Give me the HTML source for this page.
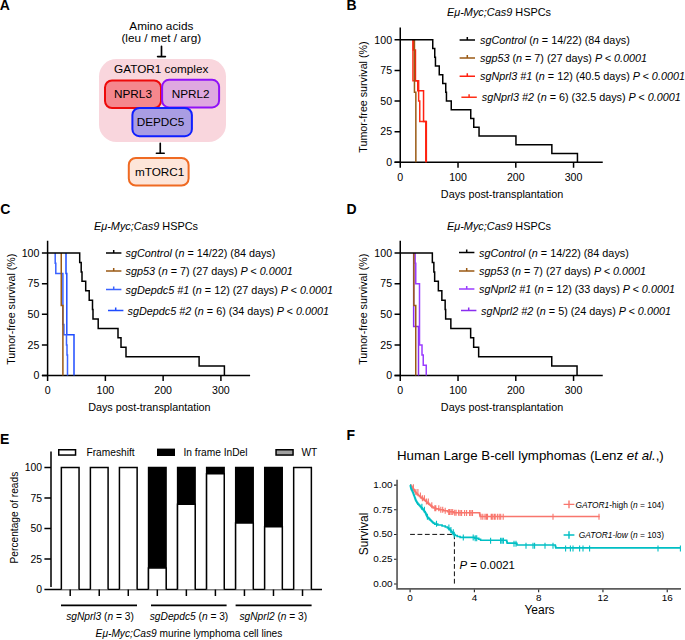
<!DOCTYPE html>
<html><head><meta charset="utf-8"><style>
html,body{margin:0;padding:0;background:#fff;overflow:hidden;width:685px;height:640px;}
svg{display:block;font-family:"Liberation Sans", sans-serif;}
</style></head><body>
<svg width="685" height="640" viewBox="0 0 685 640">
<rect width="685" height="640" fill="#fff"/>
<text x="-0.3" y="9.8" font-size="14" text-anchor="start" font-weight="bold" font-style="normal" fill="#000" >A</text>
<text x="161.3" y="30.4" font-size="11.75" text-anchor="middle" font-weight="normal" font-style="normal" fill="#000" >Amino acids</text>
<text x="161.3" y="42.4" font-size="11.75" text-anchor="middle" font-weight="normal" font-style="normal" fill="#000" >(leu / met / arg)</text>
<path d="M161.5 46.3V56.6M157.6 56.6H165.4" stroke="#000" stroke-width="1.65" stroke-linecap="round" fill="none"/>
<rect x="99" y="59" width="127" height="83" rx="17.5" fill="#f9d6dd"/>
<text x="161.2" y="73" font-size="11.75" text-anchor="middle" font-weight="normal" font-style="normal" fill="#000" >GATOR1 complex</text>
<rect x="105" y="80.5" width="56" height="27.6" rx="7" fill="#f5878d" stroke="#ee0a0a" stroke-width="2"/>
<rect x="162.1" y="79.8" width="57" height="27.6" rx="7" fill="#dfa8e0" stroke="#9010f8" stroke-width="2"/>
<text x="133" y="98" font-size="11.75" text-anchor="middle" font-weight="normal" font-style="normal" fill="#000" >NPRL3</text>
<text x="190.6" y="98" font-size="11.75" text-anchor="middle" font-weight="normal" font-style="normal" fill="#000" >NPRL2</text>
<rect x="132.4" y="108" width="59.5" height="28.2" rx="7" fill="#a99de3" stroke="#1020ff" stroke-width="2"/>
<text x="160.5" y="126.4" font-size="11.75" text-anchor="middle" font-weight="normal" font-style="normal" fill="#000" >DEPDC5</text>
<path d="M160.25 143.3V153.2M156.4 153.2H164.2" stroke="#000" stroke-width="1.65" stroke-linecap="round" fill="none"/>
<rect x="128.8" y="158" width="59.8" height="27.5" rx="7" fill="#fde5d9" stroke="#ef6a22" stroke-width="2"/>
<text x="159.6" y="176" font-size="11.75" text-anchor="middle" font-weight="normal" font-style="normal" fill="#000" >mTORC1</text>
<text x="346.6" y="9.8" font-size="14" text-anchor="start" font-weight="bold" font-style="normal" fill="#000" >B</text>
<text x="447" y="16.4" font-size="10.9" text-anchor="start" font-weight="normal" font-style="normal" fill="#000" ><tspan font-style="italic">Eμ-Myc;Cas9</tspan> HSPCs</text>
<path d="M400.25 27.549999999999994V162.25M394.55 162.25H602.75" stroke="#000" stroke-width="1.5" fill="none"/>
<path d="M394.55 162.25H400.25M394.55 131.65H400.25M394.55 101.05H400.25M394.55 70.45H400.25M394.55 39.85H400.25M400.25 162.25V167.85M458.02 162.25V167.85M515.79 162.25V167.85M573.56 162.25V167.85" stroke="#000" stroke-width="1.5" fill="none"/>
<text x="392.05" y="165.95" font-size="10.6" text-anchor="end" font-weight="normal" font-style="normal" fill="#000" >0</text>
<text x="392.05" y="135.35" font-size="10.6" text-anchor="end" font-weight="normal" font-style="normal" fill="#000" >25</text>
<text x="392.05" y="104.75" font-size="10.6" text-anchor="end" font-weight="normal" font-style="normal" fill="#000" >50</text>
<text x="392.05" y="74.14999999999999" font-size="10.6" text-anchor="end" font-weight="normal" font-style="normal" fill="#000" >75</text>
<text x="392.05" y="43.55" font-size="10.6" text-anchor="end" font-weight="normal" font-style="normal" fill="#000" >100</text>
<text x="400.25" y="180.65" font-size="10.6" text-anchor="middle" font-weight="normal" font-style="normal" fill="#000" >0</text>
<text x="458.02" y="180.65" font-size="10.6" text-anchor="middle" font-weight="normal" font-style="normal" fill="#000" >100</text>
<text x="515.79" y="180.65" font-size="10.6" text-anchor="middle" font-weight="normal" font-style="normal" fill="#000" >200</text>
<text x="573.56" y="180.65" font-size="10.6" text-anchor="middle" font-weight="normal" font-style="normal" fill="#000" >300</text>
<text x="502.05" y="198.05" font-size="10.8" text-anchor="middle" font-weight="normal" font-style="normal" fill="#000" >Days post-transplantation</text>
<text x="367.35" y="97.05" font-size="10.7" text-anchor="middle" font-weight="normal" font-style="normal" fill="#000" transform="rotate(-90 367.35 97.05)">Tumor-free survival (%)</text>
<path d="M412.95 39.85H412.95V60.25H412.95V80.65H418.65V101.05H419.75V121.45H425.75V141.85H425.75V162.25" stroke="#ff3018" stroke-width="1.5" fill="none" stroke-linejoin="miter"/>
<path d="M413.25 39.85H413.25V50.05H415.45V60.25H415.45V70.45H415.45V80.65H417.75V90.85H423.55V101.05H423.55V111.25H423.55V121.45H426.35V131.65H426.35V141.85H426.35V152.05H426.35V162.25" stroke="#ff2010" stroke-width="1.5" fill="none" stroke-linejoin="miter"/>
<path d="M414.45 39.85H414.45V57.34H414.45V74.82H414.45V92.31H415.85V109.79H415.85V127.28H415.85V144.76H415.85V162.25" stroke="#9a5a14" stroke-width="1.5" fill="none" stroke-linejoin="miter"/>
<path d="M400.25 39.85H432.75V48.59H434.75V57.34H435.45V66.08H439.25V74.82H442.75V83.56H445.75V92.31H446.45V101.05H451.25V109.79H470.75V118.54H473.75V127.28H479.05V136.02H515.95V144.76H551.85V153.51H577.45V162.25" stroke="#000" stroke-width="1.5" fill="none" stroke-linejoin="miter"/>
<path d="M459.6 40H475.0M467.3 40V37" stroke="#000" stroke-width="1.5" fill="none"/>
<text x="480.0" y="44.2" font-size="10.8" text-anchor="start" font-weight="normal" font-style="normal" fill="#000" ><tspan font-style="italic">sgControl</tspan> (<tspan font-style="italic">n</tspan> = 14/22) (84 days)</text>
<path d="M459.6 58.1H475.0M467.3 58.1V55.1" stroke="#9a5a14" stroke-width="1.5" fill="none"/>
<text x="480.0" y="62.300000000000004" font-size="10.8" text-anchor="start" font-weight="normal" font-style="normal" fill="#000" ><tspan font-style="italic">sgp53</tspan> (<tspan font-style="italic">n</tspan> = 7) (27 days) <tspan font-style="italic">P &lt; 0.0001</tspan></text>
<path d="M459.6 76.2H475.0M467.3 76.2V73.2" stroke="#ff2010" stroke-width="1.5" fill="none"/>
<text x="480.0" y="80.4" font-size="10.8" text-anchor="start" font-weight="normal" font-style="normal" fill="#000" ><tspan font-style="italic">sgNprl3 #1</tspan> (<tspan font-style="italic">n</tspan> = 12) (40.5 days) <tspan font-style="italic">P &lt; 0.0001</tspan></text>
<path d="M461.40000000000003 97.2H476.8M469.1 97.2V94.2" stroke="#ff3018" stroke-width="1.5" fill="none"/>
<text x="481.8" y="101.4" font-size="10.8" text-anchor="start" font-weight="normal" font-style="normal" fill="#000" ><tspan font-style="italic">sgNprl3 #2</tspan> (<tspan font-style="italic">n</tspan> = 6) (32.5 days) <tspan font-style="italic">P &lt; 0.0001</tspan></text>
<text x="0.2" y="214.3" font-size="14" text-anchor="start" font-weight="bold" font-style="normal" fill="#000" >C</text>
<text x="94" y="230" font-size="10.9" text-anchor="start" font-weight="normal" font-style="normal" fill="#000" ><tspan font-style="italic">Eμ-Myc;Cas9</tspan> HSPCs</text>
<path d="M47.6 240.79999999999998V375.5M41.9 375.5H250.1" stroke="#000" stroke-width="1.5" fill="none"/>
<path d="M41.9 375.50H47.6M41.9 344.90H47.6M41.9 314.30H47.6M41.9 283.70H47.6M41.9 253.10H47.6M47.60 375.5V381.1M105.37 375.5V381.1M163.14 375.5V381.1M220.91 375.5V381.1" stroke="#000" stroke-width="1.5" fill="none"/>
<text x="39.400000000000006" y="379.2" font-size="10.6" text-anchor="end" font-weight="normal" font-style="normal" fill="#000" >0</text>
<text x="39.400000000000006" y="348.59999999999997" font-size="10.6" text-anchor="end" font-weight="normal" font-style="normal" fill="#000" >25</text>
<text x="39.400000000000006" y="318.0" font-size="10.6" text-anchor="end" font-weight="normal" font-style="normal" fill="#000" >50</text>
<text x="39.400000000000006" y="287.4" font-size="10.6" text-anchor="end" font-weight="normal" font-style="normal" fill="#000" >75</text>
<text x="39.400000000000006" y="256.8" font-size="10.6" text-anchor="end" font-weight="normal" font-style="normal" fill="#000" >100</text>
<text x="47.6" y="393.9" font-size="10.6" text-anchor="middle" font-weight="normal" font-style="normal" fill="#000" >0</text>
<text x="105.37" y="393.9" font-size="10.6" text-anchor="middle" font-weight="normal" font-style="normal" fill="#000" >100</text>
<text x="163.14" y="393.9" font-size="10.6" text-anchor="middle" font-weight="normal" font-style="normal" fill="#000" >200</text>
<text x="220.91" y="393.9" font-size="10.6" text-anchor="middle" font-weight="normal" font-style="normal" fill="#000" >300</text>
<text x="149.4" y="411.3" font-size="10.8" text-anchor="middle" font-weight="normal" font-style="normal" fill="#000" >Days post-transplantation</text>
<text x="14.700000000000003" y="309.2" font-size="10.7" text-anchor="middle" font-weight="normal" font-style="normal" fill="#000" transform="rotate(-90 14.700000000000003 309.2)">Tumor-free survival (%)</text>
<path d="M66.00 253.10H66.00V273.50H66.80V293.90H66.80V314.30H66.80V334.70H74.00V355.10H74.00V375.50" stroke="#1f4cff" stroke-width="1.5" fill="none" stroke-linejoin="miter"/>
<path d="M55.20 253.10H55.20V263.30H55.80V273.50H62.90V283.70H62.90V293.90H62.90V304.10H62.90V314.30H62.90V324.50H63.90V334.70H66.50V344.90H67.00V355.10H67.50V365.30H67.50V375.50" stroke="#3a62ff" stroke-width="1.5" fill="none" stroke-linejoin="miter"/>
<path d="M61.25 253.10H61.25V270.59H61.25V288.07H61.25V305.56H62.90V323.04H62.90V340.53H62.90V358.01H62.90V375.50" stroke="#9a5a14" stroke-width="1.5" fill="none" stroke-linejoin="miter"/>
<path d="M47.60 253.10H79.70V262.52H81.20V271.93H82.00V281.35H85.70V290.76H89.20V300.18H92.50V309.59H93.00V319.01H98.20V328.42H118.00V337.84H121.00V347.25H126.00V356.67H199.10V366.08H224.40V375.50" stroke="#000" stroke-width="1.5" fill="none" stroke-linejoin="miter"/>
<path d="M106 253H121.4M113.7 253V250" stroke="#000" stroke-width="1.5" fill="none"/>
<text x="125.6" y="257.2" font-size="10.8" text-anchor="start" font-weight="normal" font-style="normal" fill="#000" ><tspan font-style="italic">sgControl</tspan> (<tspan font-style="italic">n</tspan> = 14/22) (84 days)</text>
<path d="M106 271H121.4M113.7 271V268" stroke="#9a5a14" stroke-width="1.5" fill="none"/>
<text x="125.6" y="275.2" font-size="10.8" text-anchor="start" font-weight="normal" font-style="normal" fill="#000" ><tspan font-style="italic">sgp53</tspan> (<tspan font-style="italic">n</tspan> = 7) (27 days) <tspan font-style="italic">P &lt; 0.0001</tspan></text>
<path d="M106 289.5H121.4M113.7 289.5V286.5" stroke="#3a62ff" stroke-width="1.5" fill="none"/>
<text x="125.6" y="293.7" font-size="10.8" text-anchor="start" font-weight="normal" font-style="normal" fill="#000" ><tspan font-style="italic">sgDepdc5 #1</tspan> (<tspan font-style="italic">n</tspan> = 12) (27 days) <tspan font-style="italic">P &lt; 0.0001</tspan></text>
<path d="M108 310.6H123.4M115.7 310.6V307.6" stroke="#1f4cff" stroke-width="1.5" fill="none"/>
<text x="127.6" y="314.8" font-size="10.8" text-anchor="start" font-weight="normal" font-style="normal" fill="#000" ><tspan font-style="italic">sgDepdc5 #2</tspan> (<tspan font-style="italic">n</tspan> = 6) (34 days) <tspan font-style="italic">P &lt; 0.0001</tspan></text>
<text x="346.6" y="214.3" font-size="14" text-anchor="start" font-weight="bold" font-style="normal" fill="#000" >D</text>
<text x="447" y="230" font-size="10.9" text-anchor="start" font-weight="normal" font-style="normal" fill="#000" ><tspan font-style="italic">Eμ-Myc;Cas9</tspan> HSPCs</text>
<path d="M400.25 240.79999999999998V375.5M394.55 375.5H602.75" stroke="#000" stroke-width="1.5" fill="none"/>
<path d="M394.55 375.50H400.25M394.55 344.90H400.25M394.55 314.30H400.25M394.55 283.70H400.25M394.55 253.10H400.25M400.25 375.5V381.1M458.02 375.5V381.1M515.79 375.5V381.1M573.56 375.5V381.1" stroke="#000" stroke-width="1.5" fill="none"/>
<text x="392.05" y="379.2" font-size="10.6" text-anchor="end" font-weight="normal" font-style="normal" fill="#000" >0</text>
<text x="392.05" y="348.59999999999997" font-size="10.6" text-anchor="end" font-weight="normal" font-style="normal" fill="#000" >25</text>
<text x="392.05" y="318.0" font-size="10.6" text-anchor="end" font-weight="normal" font-style="normal" fill="#000" >50</text>
<text x="392.05" y="287.4" font-size="10.6" text-anchor="end" font-weight="normal" font-style="normal" fill="#000" >75</text>
<text x="392.05" y="256.8" font-size="10.6" text-anchor="end" font-weight="normal" font-style="normal" fill="#000" >100</text>
<text x="400.25" y="393.9" font-size="10.6" text-anchor="middle" font-weight="normal" font-style="normal" fill="#000" >0</text>
<text x="458.02" y="393.9" font-size="10.6" text-anchor="middle" font-weight="normal" font-style="normal" fill="#000" >100</text>
<text x="515.79" y="393.9" font-size="10.6" text-anchor="middle" font-weight="normal" font-style="normal" fill="#000" >200</text>
<text x="573.56" y="393.9" font-size="10.6" text-anchor="middle" font-weight="normal" font-style="normal" fill="#000" >300</text>
<text x="502.05" y="411.3" font-size="10.8" text-anchor="middle" font-weight="normal" font-style="normal" fill="#000" >Days post-transplantation</text>
<text x="367.35" y="309.2" font-size="10.7" text-anchor="middle" font-weight="normal" font-style="normal" fill="#000" transform="rotate(-90 367.35 309.2)">Tumor-free survival (%)</text>
<path d="M413.65 253.10H413.65V277.58H413.65V302.06H413.65V326.54H418.50V351.02H418.50V375.50" stroke="#8a2ef0" stroke-width="1.5" fill="none" stroke-linejoin="miter"/>
<path d="M415.15 253.10H415.15V263.30H415.75V273.50H415.75V283.70H419.50V293.90H419.50V304.10H419.50V314.30H419.50V324.50H419.50V334.70H419.50V344.90H422.00V355.10H423.25V365.30H426.25V375.50" stroke="#9a3cff" stroke-width="1.5" fill="none" stroke-linejoin="miter"/>
<path d="M413.85 253.10H413.85V270.59H413.85V288.07H413.85V305.56H415.75V323.04H415.75V340.53H415.75V358.01H415.75V375.50" stroke="#9a5a14" stroke-width="1.5" fill="none" stroke-linejoin="miter"/>
<path d="M400.25 253.10H432.35V262.52H433.85V271.93H434.65V281.35H438.35V290.76H441.85V300.18H445.15V309.59H445.65V319.01H450.85V328.42H470.65V337.84H473.65V347.25H478.65V356.67H551.75V366.08H577.05V375.50" stroke="#000" stroke-width="1.5" fill="none" stroke-linejoin="miter"/>
<path d="M459 252.6H474.4M466.7 252.6V249.6" stroke="#000" stroke-width="1.5" fill="none"/>
<text x="479.0" y="256.8" font-size="10.8" text-anchor="start" font-weight="normal" font-style="normal" fill="#000" ><tspan font-style="italic">sgControl</tspan> (<tspan font-style="italic">n</tspan> = 14/22) (84 days)</text>
<path d="M459 271H474.4M466.7 271V268" stroke="#9a5a14" stroke-width="1.5" fill="none"/>
<text x="479.0" y="275.2" font-size="10.8" text-anchor="start" font-weight="normal" font-style="normal" fill="#000" ><tspan font-style="italic">sgp53</tspan> (<tspan font-style="italic">n</tspan> = 7) (27 days) <tspan font-style="italic">P &lt; 0.0001</tspan></text>
<path d="M459 289H474.4M466.7 289V286" stroke="#9a3cff" stroke-width="1.5" fill="none"/>
<text x="479.0" y="293.2" font-size="10.8" text-anchor="start" font-weight="normal" font-style="normal" fill="#000" ><tspan font-style="italic">sgNprl2 #1</tspan> (<tspan font-style="italic">n</tspan> = 12) (33 days) <tspan font-style="italic">P &lt; 0.0001</tspan></text>
<path d="M461 310.6H476.4M468.7 310.6V307.6" stroke="#8a2ef0" stroke-width="1.5" fill="none"/>
<text x="481.0" y="314.8" font-size="10.8" text-anchor="start" font-weight="normal" font-style="normal" fill="#000" ><tspan font-style="italic">sgNprl2 #2</tspan> (<tspan font-style="italic">n</tspan> = 5) (24 days) <tspan font-style="italic">P &lt; 0.0001</tspan></text>
<text x="-0.1" y="443.6" font-size="14" text-anchor="start" font-weight="bold" font-style="normal" fill="#000" >E</text>
<path d="M51 451.59999999999997V587.0M44.4 589.5H322" stroke="#000" stroke-width="1.5" fill="none"/>
<path d="M44.4 558.98H51M44.4 528.45H51M44.4 497.93H51M44.4 467.40H51" stroke="#000" stroke-width="1.5" fill="none"/>
<text x="42" y="593.2" font-size="10.4" text-anchor="end" font-weight="normal" font-style="normal" fill="#000" >0</text>
<text x="42" y="562.6750000000001" font-size="10.4" text-anchor="end" font-weight="normal" font-style="normal" fill="#000" >25</text>
<text x="42" y="532.1500000000001" font-size="10.4" text-anchor="end" font-weight="normal" font-style="normal" fill="#000" >50</text>
<text x="42" y="501.625" font-size="10.4" text-anchor="end" font-weight="normal" font-style="normal" fill="#000" >75</text>
<text x="42" y="471.09999999999997" font-size="10.4" text-anchor="end" font-weight="normal" font-style="normal" fill="#000" >100</text>
<text x="17.8" y="517.6" font-size="10.2" text-anchor="middle" font-weight="normal" font-style="normal" fill="#000" transform="rotate(-90 17.8 517.6)">Percentage of reads</text>
<path d="M61.35 589.5V467.40H79.05V589.5" stroke="#000" stroke-width="1.5" fill="#fff"/>
<path d="M70.20 589.5V596.0" stroke="#000" stroke-width="1.5"/>
<path d="M90.39000000000001 589.5V467.40H108.09V589.5" stroke="#000" stroke-width="1.5" fill="#fff"/>
<path d="M99.24 589.5V596.0" stroke="#000" stroke-width="1.5"/>
<path d="M119.43 589.5V467.40H137.13V589.5" stroke="#000" stroke-width="1.5" fill="#fff"/>
<path d="M128.28 589.5V596.0" stroke="#000" stroke-width="1.5"/>
<rect x="147.82" y="466.75" width="19" height="122.75" fill="#000"/>
<path d="M148.47 589.5V567.93H166.17V589.5" stroke="#000" stroke-width="1.5" fill="#fff"/>
<path d="M157.32 589.5V596.0" stroke="#000" stroke-width="1.5"/>
<rect x="176.86" y="466.75" width="19" height="122.75" fill="#000"/>
<path d="M177.51000000000002 589.5V504.31H195.21V589.5" stroke="#000" stroke-width="1.5" fill="#fff"/>
<path d="M186.36 589.5V596.0" stroke="#000" stroke-width="1.5"/>
<rect x="205.89999999999998" y="466.75" width="19" height="122.75" fill="#000"/>
<path d="M206.54999999999998 589.5V473.79H224.24999999999997V589.5" stroke="#000" stroke-width="1.5" fill="#fff"/>
<path d="M215.40 589.5V596.0" stroke="#000" stroke-width="1.5"/>
<rect x="234.94" y="466.75" width="19" height="122.75" fill="#000"/>
<path d="M235.59 589.5V523.00H253.29V589.5" stroke="#000" stroke-width="1.5" fill="#fff"/>
<path d="M244.44 589.5V596.0" stroke="#000" stroke-width="1.5"/>
<rect x="263.98" y="466.75" width="19" height="122.75" fill="#000"/>
<path d="M264.63 589.5V526.78H282.33000000000004V589.5" stroke="#000" stroke-width="1.5" fill="#fff"/>
<path d="M273.48 589.5V596.0" stroke="#000" stroke-width="1.5"/>
<path d="M293.66999999999996 589.5V467.40H311.37V589.5" stroke="#000" stroke-width="1.5" fill="#fff"/>
<path d="M302.52 589.5V596.0" stroke="#000" stroke-width="1.5"/>
<path d="M61 605.4H137M151 605.4H226.6M235.6 605.4H311.6" stroke="#000" stroke-width="1.6"/>
<text x="100" y="620" font-size="10.2" text-anchor="middle" font-weight="normal" font-style="normal" fill="#000" ><tspan font-style="italic">sgNprl3</tspan> (<tspan font-style="italic">n</tspan> = 3)</text>
<text x="189" y="620" font-size="10.2" text-anchor="middle" font-weight="normal" font-style="normal" fill="#000" ><tspan font-style="italic">sgDepdc5</tspan> (<tspan font-style="italic">n</tspan> = 3)</text>
<text x="273.3" y="620" font-size="10.2" text-anchor="middle" font-weight="normal" font-style="normal" fill="#000" ><tspan font-style="italic">sgNprl2</tspan> (<tspan font-style="italic">n</tspan> = 3)</text>
<text x="189" y="636.5" font-size="10.2" text-anchor="middle" font-weight="normal" font-style="normal" fill="#000" ><tspan font-style="italic">Eμ-Myc;Cas9</tspan> murine lymphoma cell lines</text>
<rect x="58.75" y="449.75" width="16.8" height="5.3" fill="#fff" stroke="#000" stroke-width="1.5"/>
<text x="86.5" y="456" font-size="10.2" text-anchor="start" font-weight="normal" font-style="normal" fill="#000" >Frameshift</text>
<rect x="157" y="448.6" width="18" height="7.4" fill="#000"/>
<text x="183.5" y="456" font-size="10.2" text-anchor="start" font-weight="normal" font-style="normal" fill="#000" >In frame InDel</text>
<rect x="276.05" y="449.75" width="17" height="5.3" fill="#a0a0a0" stroke="#000" stroke-width="1.5"/>
<text x="301.5" y="456" font-size="10.2" text-anchor="start" font-weight="normal" font-style="normal" fill="#000" >WT</text>
<text x="346.6" y="440" font-size="14" text-anchor="start" font-weight="bold" font-style="normal" fill="#000" >F</text>
<text x="397" y="459.6" font-size="13.3" text-anchor="start" font-weight="normal" font-style="normal" fill="#000" >Human Large B-cell lymphomas (Lenz <tspan font-style="italic">et al.</tspan>,)</text>
<path d="M397.05 479.8V588.85H681" stroke="#5c5c5c" stroke-width="1.7" fill="none"/>
<path d="M394.0 584.00H396.5M394.0 559.27H396.5M394.0 534.55H396.5M394.0 509.82H396.5M394.0 485.10H396.5M410.10 589.5V592.2M474.38 589.5V592.2M538.66 589.5V592.2M602.94 589.5V592.2M667.22 589.5V592.2" stroke="#222" stroke-width="1.1"/>
<text x="392.6" y="586.7" font-size="9.9" text-anchor="end" font-weight="normal" font-style="normal" fill="#000" >0.00</text>
<text x="392.6" y="561.975" font-size="9.9" text-anchor="end" font-weight="normal" font-style="normal" fill="#000" >0.25</text>
<text x="392.6" y="537.25" font-size="9.9" text-anchor="end" font-weight="normal" font-style="normal" fill="#000" >0.50</text>
<text x="392.6" y="512.525" font-size="9.9" text-anchor="end" font-weight="normal" font-style="normal" fill="#000" >0.75</text>
<text x="392.6" y="487.8" font-size="9.9" text-anchor="end" font-weight="normal" font-style="normal" fill="#000" >1.00</text>
<text x="410.1" y="600.8" font-size="9.9" text-anchor="middle" font-weight="normal" font-style="normal" fill="#000" >0</text>
<text x="474.38" y="600.8" font-size="9.9" text-anchor="middle" font-weight="normal" font-style="normal" fill="#000" >4</text>
<text x="538.6600000000001" y="600.8" font-size="9.9" text-anchor="middle" font-weight="normal" font-style="normal" fill="#000" >8</text>
<text x="602.94" y="600.8" font-size="9.9" text-anchor="middle" font-weight="normal" font-style="normal" fill="#000" >12</text>
<text x="667.22" y="600.8" font-size="9.9" text-anchor="middle" font-weight="normal" font-style="normal" fill="#000" >16</text>
<text x="539.5" y="614" font-size="12" text-anchor="middle" font-weight="normal" font-style="normal" fill="#000" >Years</text>
<text x="368.2" y="534" font-size="12" text-anchor="middle" font-weight="normal" font-style="normal" fill="#000" transform="rotate(-90 368.2 534)">Survival</text>
<path d="M410.1 534.4H454.4M454.4 534.4V584.5" stroke="#000" stroke-width="0.95" stroke-dasharray="4.8 2.6" fill="none"/>
<path d="M410.10 485.10H410.91V486.05H411.71V487.00H412.40V487.95H413.00V488.90H413.61V489.85H414.21V490.81H414.81V491.76H415.61V492.71H416.45V493.66H417.29V494.61H418.20V495.56H419.44V496.51H420.67V497.46H421.91V498.41H423.16V499.36H424.40V500.32H425.65V501.27H426.68V502.22H427.67V503.17H428.66V504.12H429.65V505.07H430.80V506.02H432.00V506.97H433.20V507.92H435.57V508.87H438.87V509.82H443.50V510.78H447.52V511.73H453.54V512.68H479.63V513.63H479.79V514.58H479.96V515.53H480.12V516.48H599.73" stroke="#f8766d" stroke-width="1.6" fill="none"/>
<path d="M413.40 484.37V490.37M415.90 488.92V494.92M417.90 488.92V494.92M420.40 492.39V498.39M422.40 495.35V501.35M424.40 495.35V501.35M426.40 498.42V504.42M428.30 498.42V504.42M431.80 502.28V508.28M434.80 505.34V511.34M435.80 505.34V511.34M438.80 505.34V511.34M440.80 506.82V512.83M442.70 506.82V512.83M445.20 507.81V513.81M448.70 509.00V515.00M449.70 509.00V515.00M451.20 509.00V515.00M452.70 509.00V515.00M454.70 509.69V515.69M456.10 509.69V515.69M458.60 509.69V515.69M460.10 509.89V515.89M461.60 509.89V515.89M464.60 509.89V515.89M466.60 509.89V515.89M469.60 509.89V515.89M471.00 509.89V515.89M472.50 509.89V515.89M481.00 513.75V519.75M482.80 513.75V519.75M485.00 513.75V519.75M486.40 513.75V519.75M487.50 513.75V519.75M491.20 513.75V519.75M492.30 513.75V519.75M494.10 513.75V519.75M495.20 513.75V519.75M497.40 513.75V519.75M499.20 513.75V519.75M500.70 513.75V519.75M503.20 513.75V519.75M553.00 513.75V519.75M599.00 513.75V519.75" stroke="#f8766d" stroke-width="1.1" fill="none"/>
<path d="M410.10 485.10H410.34V486.05H410.59V487.00H410.83V487.95H411.09V488.90H411.54V489.85H411.99V490.81H412.44V491.76H412.89V492.71H413.27V493.66H413.61V494.61H413.96V495.56H414.31V496.51H414.65V497.46H414.99V498.41H415.33V499.36H415.67V500.32H416.10V501.27H416.69V502.22H417.28V503.17H417.87V504.12H418.74V505.07H419.67V506.02H420.56V506.97H421.36V507.92H422.16V508.87H422.96V509.82H423.73V510.78H424.50V511.73H425.27V512.68H425.71V513.63H426.09V514.58H426.48V515.53H426.87V516.48H427.60V517.43H428.47V518.38H429.34V519.33H430.26V520.29H431.26V521.24H432.27V522.19H433.27V523.14H434.69V524.09H437.77V525.04H442.07V525.99H445.27V526.94H447.47V527.89H448.65V528.84H449.82V529.80H450.58V530.75H451.29V531.70H452.02V532.65H452.80V533.60H453.57V534.55H455.16V535.50H457.23V536.45H460.08V537.40H474.89V538.35H478.73V539.30H480.59V540.26H506.64V541.21H506.91V542.16H507.17V543.11H516.65V544.06H517.04V545.01H555.30V545.96H555.56V546.91H555.82V547.86H680.08" stroke="#00bfc4" stroke-width="1.6" fill="none"/>
<path d="M421.90 503.76V509.76M424.40 506.82V512.83M427.40 513.75V519.75M436.50 520.87V526.87M448.90 524.43V530.43M450.90 526.90V532.90M453.30 529.28V535.28M454.30 531.85V537.85M463.30 534.62V540.62M473.20 534.62V540.62M475.20 535.31V541.31M476.70 535.31V541.31M490.60 537.78V543.78M500.60 537.78V543.78M502.00 537.78V543.78M503.40 537.78V543.78M514.00 540.65V546.65M516.00 540.65V546.65M526.00 542.63V548.63M533.00 542.63V548.63M534.60 542.63V548.63M545.00 542.63V548.63M553.00 542.63V548.63M565.60 545.59V551.59M570.40 545.59V551.59M573.00 545.59V551.59M579.60 545.59V551.59M583.00 545.59V551.59M589.60 545.59V551.59M658.00 545.59V551.59M680.40 545.59V551.59" stroke="#00bfc4" stroke-width="1.1" fill="none"/>
<path d="M563.6 504.4H574.4M569 500.6V508.2" stroke="#f8766d" stroke-width="1.4"/>
<text x="575.6" y="508" font-size="8.4" text-anchor="start" font-weight="normal" font-style="normal" fill="#000" ><tspan font-style="italic">GATOR1</tspan>-high (<tspan font-style="italic">n</tspan> = 104)</text>
<path d="M563.6 535H574.4M569 531.2V538.8" stroke="#00bfc4" stroke-width="1.4"/>
<text x="578.8" y="538" font-size="8.4" text-anchor="start" font-weight="normal" font-style="normal" fill="#000" ><tspan font-style="italic">GATOR1-low</tspan> (<tspan font-style="italic">n</tspan> = 103)</text>
<text x="459.5" y="569" font-size="11.4" text-anchor="start" font-weight="normal" font-style="normal" fill="#000" ><tspan font-style="italic">P</tspan> = 0.0021</text>
</svg></body></html>
